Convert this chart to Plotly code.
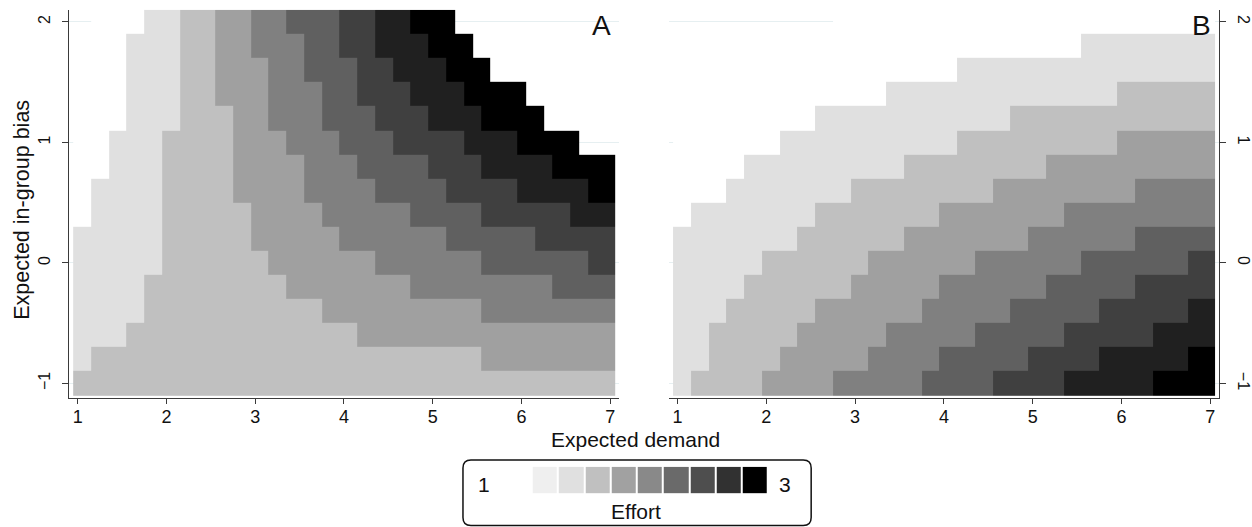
import plotly.graph_objects as go

# ---------------- data ----------------
# Row centres of the contour grid (top row first)
ROWS_Y = [2.0, 1.8, 1.6, 1.4, 1.2, 1.0, 0.8, 0.6, 0.4, 0.2, 0.0,
          -0.2, -0.4, -0.6, -0.8, -1.0]
# Column edges of the contour grid (Expected demand)
X_EDGES = [0.95, 1.15, 1.35, 1.55, 1.75, 1.95, 2.15, 2.35, 2.55, 2.75,
           2.95, 3.15, 3.35, 3.55, 3.75, 3.95, 4.15, 4.35, 4.55, 4.75,
           4.95, 5.15, 5.35, 5.55, 5.75, 5.95, 6.15, 6.35, 6.55, 6.75, 7.05]

# Panel A: column index (per row, top row first) where each effort band starts
A_L1 = [4, 3, 3, 3, 3, 2, 2, 1, 1, 0, 0, 0, 0, 0, 0, 0]
A_L2 = [6, 6, 6, 6, 6, 5, 5, 5, 5, 5, 5, 4, 4, 3, 1, 0]
A_L3 = [8, 8, 8, 8, 9, 9, 9, 9, 10, 10, 11, 12, 14, 16, 23, 30]
A_L4 = [10, 10, 11, 11, 11, 12, 13, 13, 14, 15, 17, 19, 23, 30, 30, 30]
A_L5 = [12, 13, 13, 14, 14, 15, 16, 17, 19, 21, 23, 27, 30, 30, 30, 30]
A_L6 = [15, 15, 16, 16, 17, 18, 20, 21, 23, 26, 29, 30, 30, 30, 30, 30]
A_L7 = [17, 17, 18, 19, 20, 22, 23, 25, 28, 30, 30, 30, 30, 30, 30, 30]
A_L8 = [19, 20, 21, 22, 23, 25, 27, 29, 30, 30, 30, 30, 30, 30, 30, 30]
A_MISSING_BEFORE = [1, 0, 0, 0, 0, 0, 0, 0, 0, 0, 0, 0, 0, 0, 0, 0]
A_MISSING_FROM = [21.5, 22.5, 23.5, 25.5, 26.5, 28.5, 30, 30, 30, 30, 30,
                  30, 30, 30, 30, 30]

# Panel B
B_L1 = [30, 23, 16, 12, 8, 6, 4, 3, 1, 0, 0, 0, 0, 0, 0, 0]
B_L2 = [30, 30, 30, 25, 19, 16, 13, 10, 8, 7, 5, 4, 3, 2, 2, 1]
B_L3 = [30, 30, 30, 30, 30, 25, 21, 18, 15, 13, 11, 10, 8, 7, 6, 5]
B_L4 = [30, 30, 30, 30, 30, 30, 30, 26, 22, 20, 17, 15, 14, 12, 11, 9]
B_L5 = [30, 30, 30, 30, 30, 30, 30, 30, 30, 26, 23, 21, 19, 17, 15, 14]
B_L6 = [30, 30, 30, 30, 30, 30, 30, 30, 30, 30, 29, 26, 24, 22, 20, 18]
B_L7 = [30, 30, 30, 30, 30, 30, 30, 30, 30, 30, 30, 30, 29, 27, 24, 22]
B_L8 = [30, 30, 30, 30, 30, 30, 30, 30, 30, 30, 30, 30, 30, 30, 29, 27]
B_MISSING_BEFORE = [9, 0, 0, 0, 0, 0, 0, 0, 0, 0, 0, 0, 0, 0, 0, 0]
B_MISSING_FROM = [30] * 16

LEVEL_COLORS = ["#ffffff", "#e0e0e0", "#c0c0c0", "#a0a0a0", "#808080",
                "#606060", "#404040", "#202020", "#000000"]
LEGEND_COLORS = ["#efefef", "#e0e0e0", "#c0c0c0", "#a1a1a1", "#898989",
                 "#6a6a6a", "#4e4e4e", "#313131", "#000000"]
LEGEND_MIN, LEGEND_MAX, LEGEND_TITLE = "1", "3", "Effort"
X_TICKS = [1, 2, 3, 4, 5, 6, 7]
Y_TICKS = [-1, 0, 1, 2]
X_TITLE = "Expected demand"
Y_TITLE = "Expected in-group bias"

# ---------------- build grids ----------------
sub_edges = []
for k in range(len(X_EDGES) - 1):
    sub_edges.append(X_EDGES[k])
    sub_edges.append((X_EDGES[k] + X_EDGES[k + 1]) / 2)
sub_edges.append(X_EDGES[-1])
n_sub = len(sub_edges) - 1


def build(starts, miss_before, miss_from):
    z = []
    for r in range(len(ROWS_Y)):
        row = []
        for j in range(n_sub):
            p = j / 2
            if p < miss_before[r] or p >= miss_from[r]:
                row.append(None)
            else:
                row.append(sum(1 for s in starts if p >= s[r]))
        z.append(row)
    return z[::-1]


zA = build([A_L1, A_L2, A_L3, A_L4, A_L5, A_L6, A_L7, A_L8],
           A_MISSING_BEFORE, A_MISSING_FROM)
zB = build([B_L1, B_L2, B_L3, B_L4, B_L5, B_L6, B_L7, B_L8],
           B_MISSING_BEFORE, B_MISSING_FROM)
y_centres = ROWS_Y[::-1]

nl = len(LEVEL_COLORS)
cscale = []
for i, c in enumerate(LEVEL_COLORS):
    cscale.append([i / nl, c])
    cscale.append([(i + 1) / nl, c])

nlg = len(LEGEND_COLORS)
lscale = []
for i, c in enumerate(LEGEND_COLORS):
    lscale.append([i / nlg, c])
    lscale.append([(i + 1) / nlg, c])

FONT = "Liberation Sans, Arial, Helvetica, sans-serif"
W, H = 1252, 527

fig = go.Figure()
for z, xa, ya in [(zA, "x", "y"), (zB, "x2", "y2")]:
    fig.add_trace(go.Heatmap(z=z, x=sub_edges, y=y_centres, xaxis=xa, yaxis=ya,
                             colorscale=cscale, zmin=-0.5, zmax=nl - 0.5,
                             showscale=False, hoverinfo="skip"))

# legend swatches
fig.add_trace(go.Heatmap(z=[list(range(nlg))], xaxis="x3", yaxis="y3", xgap=2,
                         colorscale=lscale, zmin=-0.5, zmax=nlg - 0.5,
                         showscale=False, hoverinfo="skip"))

axis_col = "#3a3a3a"
grid_col = "#e6eff1"
ydom = [1 - 397.8 / H, 1 - 9.8 / H]
common_x = dict(range=[0.9, 7.1], tickvals=X_TICKS, ticks="outside", ticklen=5,
                tickwidth=1.2, tickcolor=axis_col, showline=True, linecolor=axis_col,
                linewidth=1.3, showgrid=False, zeroline=False,
                ticklabelstandoff=-3,
                tickfont=dict(family=FONT, size=18, color="#111"))
common_y = dict(range=[-1.12, 2.1], tickvals=Y_TICKS, ticks="outside", ticklen=6,
                tickwidth=1.2, tickcolor=axis_col, showline=True, linecolor=axis_col,
                linewidth=1.3, showgrid=True, gridcolor=grid_col, gridwidth=1.2,
                zeroline=False, domain=ydom, ticklabelstandoff=5,
                tickfont=dict(family=FONT, size=16, color="#111"))

fig.update_layout(
    width=W, height=H, margin=dict(l=0, r=0, t=0, b=0),
    paper_bgcolor="white", plot_bgcolor="white", showlegend=False,
    xaxis=dict(common_x, domain=[69.3 / W, 624.2 / W], anchor="y"),
    yaxis=dict(common_y, anchor="x", tickangle=-90, side="left"),
    xaxis2=dict(common_x, domain=[674 / W, 1229 / W], anchor="y2"),
    yaxis2=dict(common_y, anchor="x2", tickangle=90, side="right"),
    xaxis3=dict(domain=[536 / W, 774.3 / W], anchor="y3", visible=False,
                range=[-0.5, nlg - 0.5]),
    yaxis3=dict(domain=[1 - 493.3 / H, 1 - 466.7 / H], anchor="x3", visible=False,
                range=[-0.5, 0.5]),
)

# rounded legend box
x0, x1 = 466.7 / W, 817.7 / W
y0, y1 = 1 - 525.5 / H, 1 - 460 / H
rx, ry = 8 / W, 8 / H
path = (f"M {x0+rx},{y0} L {x1-rx},{y0} Q {x1},{y0} {x1},{y0+ry} "
        f"L {x1},{y1-ry} Q {x1},{y1} {x1-rx},{y1} L {x0+rx},{y1} "
        f"Q {x0},{y1} {x0},{y1-ry} L {x0},{y0+ry} Q {x0},{y0} {x0+rx},{y0} Z")
fig.add_shape(type="path", path=path, xref="paper", yref="paper",
              line=dict(color="#111", width=1.5), fillcolor="rgba(0,0,0,0)")


def ann(text, px, py, size, angle=0):
    fig.add_annotation(text=text, x=px / W, y=1 - py / H, xref="paper", yref="paper",
                       showarrow=False, textangle=angle, xanchor="center",
                       yanchor="middle", font=dict(family=FONT, size=size, color="#111"))


ann(X_TITLE, 641, 439, 21)
ann(Y_TITLE, 22, 210, 21.5, -90)
ann("A", 606, 26, 28)
ann("B", 1211, 26, 28)
ann(LEGEND_MIN, 488, 484, 21)
ann(LEGEND_MAX, 791, 484, 21)
ann(LEGEND_TITLE, 641, 511, 21)

fig.write_html("out.html", config={"displayModeBar": False},
               post_script="document.body.style.margin='0';document.body.style.overflow='hidden';")
